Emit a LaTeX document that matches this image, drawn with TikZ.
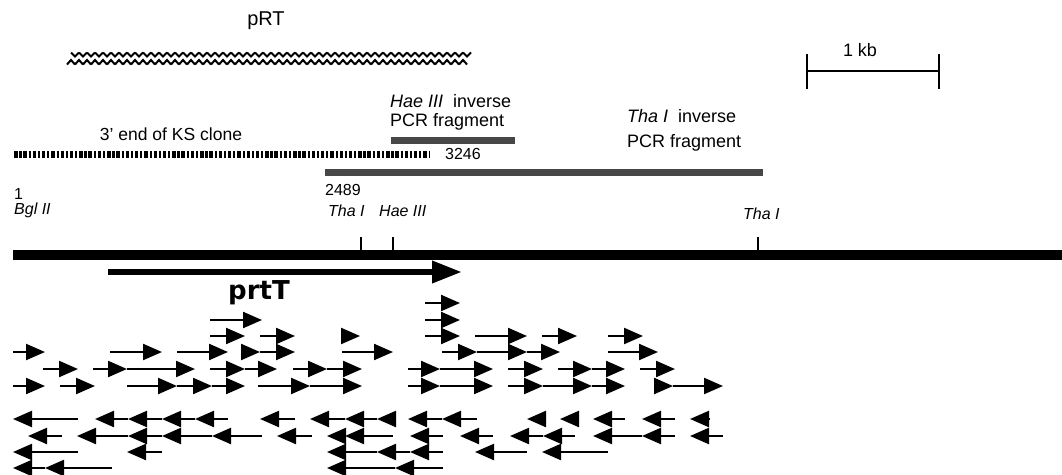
\documentclass[tikz,border=0pt]{standalone}
\usepackage{fontspec}
\setmainfont{Liberation Sans}
\newfontfamily\genefont{DejaVu Sans}
\usetikzlibrary{arrows.meta}

\tikzset{
  readfwd/.style={line width=2.2pt,-{Triangle[length=19pt,width=16pt]}},
  txt/.style={inner sep=0pt,font=\fontsize{18}{20}\selectfont},
  sitetxt/.style={inner sep=0pt,anchor=west,font=\fontsize{16}{18}\selectfont\itshape},
  fragbar/.style={draw=none,fill=black!72},
}

\begin{document}
\begin{tikzpicture}[x=1pt,y=1pt,yscale=-1]
\useasboundingbox (0,0) rectangle (1062,474);

%pRT clone, zigzag bar
\node (prt) [txt,font=\fontsize{20}{22}\selectfont] at (266,21) {pRT};
\foreach \x in {71,79,...,469}
  {\draw [line width=2pt] (\x,52.5) -- (\x+4,56.5) -- (\x+8,52.5);
   \draw [line width=2pt] (\x-4,64.5) -- (\x,60) -- (\x+4,64.5);}

%scale bar
\node (kb) [txt] at (860,50) {1 kb};
\draw [line width=1.5pt] (807,71) -- (939,71);
\draw [line width=1.5pt] (807,54) -- (807,89) (939,54) -- (939,89);

%inverse PCR fragments
\node (haetxt) [txt,anchor=west,align=left] at (390,112.5) {\itshape Hae III\ \ \upshape inverse\\[-1pt]PCR fragment};
\fill [fragbar] (391,137) rectangle (515,143.5);
\node (thatxt) [txt,anchor=west,align=left] at (627,130.5) {\itshape Tha I\ \ \upshape inverse\\[5pt]PCR fragment};
\fill [fragbar] (325,169) rectangle (763,176);

%3' end of KS clone
\node (ks) [txt,font=\fontsize{17.5}{20}\selectfont] at (171,134) {3' end of KS clone};
\draw [line width=7pt,dash pattern={on 3.5pt off 1.8pt on 2.2pt off 1.8pt}] (14,154) -- (430,154);
\node (n3246) [txt,anchor=west,font=\fontsize{16}{18}\selectfont] at (445,154) {3246};
\node (n2489) [txt,anchor=west,font=\fontsize{16}{18}\selectfont] at (325,190) {2489};

%restriction sites
\node (n1) [txt,anchor=west,font=\fontsize{16}{18}\selectfont] at (14,194) {1};
\node (bgl) [sitetxt] at (14,210.5) {Bgl II};
\node (tha1) [sitetxt] at (328,211) {Tha I};
\node (hae) [sitetxt] at (379,211) {Hae III};
\node (tha2) [sitetxt] at (743,214) {Tha I};
\draw [line width=1.5pt] (361,237) -- (361,250) (393,237) -- (393,250) (758,237) -- (758,250);

%chromosome and prtT gene
\fill (13,250) rectangle (1062,260);
\draw [line width=6.5pt,-{Triangle[length=30pt,width=21pt]}] (108,272) -- (462,272);
\node (prtT) [inner sep=0pt,anchor=base,font=\genefont\bfseries\fontsize{26}{28}\selectfont] at (259,299) {prtT};

%sequencing reads, forward strand
\foreach \a/\b/\y in {425/460/303,
  210/262/320, 425/460/320,
  210/245/336, 260/295/336, 342/360/336, 425/460/336, 475/527/336, 542/577/336, 608/643/336,
  13/45/352, 110/162/352, 177/228/352, 242/260/352, 260/295/352, 342/393/352, 442/477/352, 477/527/352, 527/560/352, 608/658/352,
  43/78/369, 93/127/369, 127/195/369, 210/245/369, 245/277/369, 293/327/369, 327/362/369, 408/440/369, 440/493/369, 508/543/369, 558/592/369, 592/625/369, 640/675/369,
  13/45/386, 60/95/386, 127/177/386, 177/212/386, 212/245/386, 258/310/386, 310/362/386, 408/440/386, 440/493/386, 508/543/386, 543/592/386, 592/625/386, 655/673/386, 673/723/386}
  \draw [readfwd] (\a,\y) -- (\b,\y);

%sequencing reads, reverse strand
\foreach \a/\b/\y in {13/78/419, 95/128/419, 128/162/419, 162/195/419, 195/228/419, 260/295/419, 310/345/419, 345/377/419, 377/395/419, 408/442/419, 442/477/419, 527/545/419, 560/578/419, 593/625/419, 642/675/419, 690/710/419,
  28/62/436, 77/128/436, 128/162/436, 162/212/436, 212/262/436, 277/312/436, 327/345/436, 345/393/436, 410/443/436, 460/493/436, 510/543/436, 543/575/436, 593/642/436, 642/675/436, 690/723/436,
  13/78/452, 127/162/452, 327/377/452, 377/410/452, 410/443/452, 475/527/452, 542/608/452,
  13/45/468, 45/112/468, 327/395/468, 395/443/468}
  \draw [readfwd] (\b,\y) -- (\a,\y);

\end{tikzpicture}
\end{document}
